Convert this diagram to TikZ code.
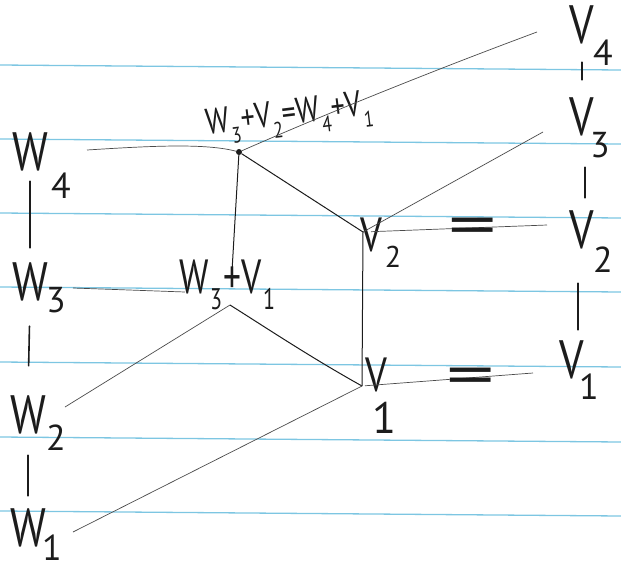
\documentclass[tikz,border=0pt]{standalone}
\usepackage{fontspec}
\setsansfont{PT Sans}
\usepackage{graphicx}
\definecolor{ruleblue}{RGB}{125,198,226}
\definecolor{ink}{RGB}{28,28,28}
\definecolor{pen}{RGB}{75,75,75}
\newcommand\hw[1]{\scalebox{0.8}[1]{#1}}
\newcommand\dn[1]{\kern0.04em\raisebox{-0.32em}{\scalebox{0.62}{#1}}\kern0.04em}
\tikzset{
  every node/.style={inner sep=0pt, outer sep=0pt, text=ink},
  labbig/.style={font=\sffamily\fontsize{54}{54}\selectfont},
  subbig/.style={font=\sffamily\fontsize{36}{36}\selectfont},
  labmid/.style={font=\sffamily\fontsize{48}{48}\selectfont},
  toplab/.style={font=\sffamily\fontsize{36}{36}\selectfont},
  eqsign/.style={font=\sffamily\fontsize{60}{60}\selectfont},
  rulel/.style={draw=ruleblue, line width=1.3pt},
  penline/.style={draw=pen, line width=0.7pt},
  darkline/.style={draw=ink, line width=1pt},
  barline/.style={draw=ink, line width=1.6pt, line cap=round},
  dotnode/.style={circle, fill=ink, minimum size=6pt},
}
\begin{document}
\begin{tikzpicture}[x=1pt,y=-1pt]
\useasboundingbox (0,0) rectangle (621,571);
% ruled paper
\foreach \yy in {65,139,213,287,362,437,511}
  \draw[rulel] (0,\yy) -- (621,\yy+5);

% left chain W
\node[labbig] (W4) at (30,152) {\hw{W}};
\node[subbig] (W4s) at (61,186) {4};
\node[labbig] (W3) at (30,282) {\hw{W}};
\node[subbig] (W3s) at (56,300) {3};
\node[labbig] (W2) at (28,415) {\hw{W}};
\node[subbig] (W2s) at (56,438) {2};
\node[labbig] (W1) at (28,528) {\hw{W}};
\node[subbig] (W1s) at (52,548) {1};
\draw[barline, shorten <=10pt, shorten >=15pt] (W4.south) -- (W3.north);
\draw[barline, shorten <=25pt, shorten >=30pt] (W3.south) -- (W2.north);
\draw[barline, shorten <=21pt, shorten >=13pt] (W2.south) -- (W1.north);

% right chain V
\node[labbig] (V4) at (582,25) {\hw{V}};
\node[subbig] (V4s) at (603,53) {4};
\node[labbig] (V3) at (582,117) {\hw{V}};
\node[subbig] (V3s) at (600,145) {3};
\node[labbig] (V2) at (582,230) {\hw{V}};
\node[subbig] (V2s) at (603,260) {2};
\node[labbig] (V1) at (572,360) {\hw{V}};
\node[subbig] (V1s) at (589,387) {1};
\draw[barline, shorten <=18pt, shorten >=18pt] (V4.south) -- (V3.north);
\draw[barline, shorten <=31pt, shorten >=13pt] ([xshift=3pt]V3.south) -- ([xshift=3pt]V2.north);
\draw[barline, shorten <=34pt, shorten >=11pt] ([xshift=-4pt]V2.south) -- ([xshift=6pt]V1.north);

% free ends of the connectors
\coordinate (w4e) at (87,150);
\coordinate (w3e) at (73,288);
\coordinate (w3t) at (185,292);
\coordinate (w2e) at (65,407);
\coordinate (w1e) at (73,532);
\coordinate (v4e) at (537,32);
\coordinate (v3e) at (543,132);
\coordinate (v2e) at (547,225);
\coordinate (v1e) at (533,373);

% junctions
\node[dotnode] (P) at (239,152) {};
\coordinate (q) at (230,305);
\coordinate (v2j) at (363,232);
\coordinate (v1j) at (362,386);

% middle labels
\node[toplab, rotate=7] (PL) at (290,118) {\scalebox{0.78}[1]{W\dn{3}+V\dn{2}=W\dn{4}+V\dn{1}}};
\node[labmid] (QL) at (228,285) {\scalebox{0.74}[1]{W\dn{3}+V\dn{1}}};
\node[labmid] (V2m) at (371,235) {\hw{V}};
\node[font=\sffamily\fontsize{30}{30}\selectfont] (V2ms) at (393,257) {2};
\node[labmid] (V1m) at (376,375) {\hw{V}};
\node[font=\sffamily\fontsize{44}{44}\selectfont] (V1ms) at (384,418) {1};

% connectors
\draw[penline] (w4e) .. controls (150,146) and (205,143) .. (P);
\draw[penline] (P) .. controls (330,112) and (440,68) .. (v4e);
\draw[darkline] (P) -- (v2j);
\draw[darkline, shorten >=35pt] (P) -- (q);
\draw[penline] (v2j) -- (v3e);
\draw[penline, shorten <=8pt] (v2j) -- (v2e);
\draw[darkline] (v2j) -- (v1j);
\draw[penline] (w3e) -- (w3t);
\draw[penline] (w2e) -- (q);
\draw[darkline] (q) .. controls (265,327) and (310,357) .. (v1j);
\draw[penline] (w1e) -- (v1j);
\draw[penline, shorten <=3pt] (v1j) -- (v1e);

% equal signs
\node[eqsign] (eq2) at (473,232) {\scalebox{1.6}[1]{=}};
\node[eqsign] (eq1) at (471,382) {\scalebox{1.6}[1]{=}};
\end{tikzpicture}
\end{document}
